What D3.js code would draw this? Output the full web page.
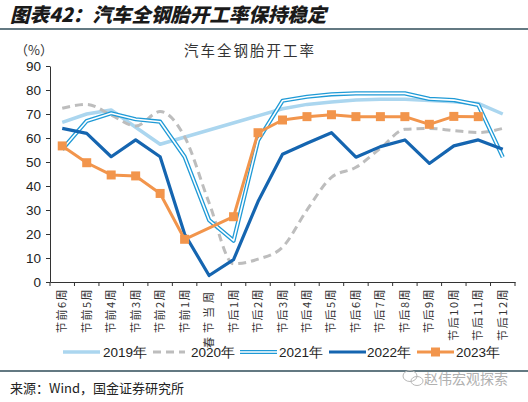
<!DOCTYPE html>
<html><head><meta charset="utf-8">
<script src="https://cdn.jsdelivr.net/npm/d3@7"></script>
<style>
body{margin:0;background:#fff;}
svg{display:block;}
</style></head>
<body>
<svg id="c" width="528" height="402"></svg>
<script>
const categories = ["节前6周","节前5周","节前4周","节前3周","节前2周","节前1周","春节当周","节后1周","节后2周","节后3周","节后4周","节后5周","节后6周","节后7周","节后8周","节后9周","节后10周","节后11周","节后12周"];
const y2019 = [66.5,70.0,71.7,64.5,57.4,null,null,null,null,72.2,74.0,75.0,75.8,76.1,76.1,75.6,75.1,74.4,70.0];
const y2020 = [72.4,74.0,69.6,65.0,71.0,60.5,33.0,7.6,9.5,14.5,30.0,43.6,47.8,55.7,63.6,64.0,63.1,62.3,64.0];
const y2021 = [55.3,67.1,70.3,67.8,66.8,52.2,25.8,17.2,59.0,75.5,77.2,78.2,78.6,78.6,78.6,76.3,75.8,73.8,52.0];
const y2022 = [64.0,61.9,52.2,59.2,52.2,20.0,2.7,9.3,33.5,53.2,57.8,62.2,52.0,56.4,59.2,49.4,56.7,59.2,55.3];
const y2023 = [56.7,49.7,44.6,44.2,36.9,17.8,null,27.2,62.2,67.5,68.9,69.7,68.9,68.9,68.9,65.7,69.0,68.9,null];
const yTicks = [0,10,20,30,40,50,60,70,80,90];
const seriesNames = ["2019年","2020年","2021年","2022年","2023年"];

const svg = d3.select("#c");
const cjk = "'Noto Sans CJK SC', sans-serif";
const latin = "'Liberation Sans', Arial, sans-serif";

// header
svg.append("text").attr("x",10).attr("y",22)
  .style("font-family",cjk).style("font-size","19.5px").style("font-weight","900")
  .style("font-style","italic").attr("fill","#1a1a1a")
  .text("图表42：汽车全钢胎开工率保持稳定");
svg.append("line").attr("x1",0).attr("x2",528).attr("y1",29).attr("y2",29)
  .attr("stroke","#2f4d58").attr("stroke-width",1.5);
svg.append("line").attr("x1",0).attr("x2",528).attr("y1",371).attr("y2",371)
  .attr("stroke","#2f4d58").attr("stroke-width",1.5);
svg.append("text").attr("x",10).attr("y",393)
  .style("font-family",cjk).style("font-size","13px").attr("fill","#222")
  .text("来源：Wind，国金证券研究所");
// watermark
const wm = svg.append("g").attr("fill","none").attr("stroke","#b8b8b8").attr("stroke-width",1);
wm.append("ellipse").attr("cx",410).attr("cy",376).attr("rx",7).attr("ry",5.5);
wm.append("ellipse").attr("cx",417).attr("cy",381).attr("rx",6).attr("ry",4.5);
svg.append("text").attr("x",424).attr("y",384)
  .style("font-family",cjk).style("font-size","14px").attr("fill","#b0b0b0")
  .text("赵伟宏观探索");

// chart title & unit
svg.append("text").attr("x",250).attr("y",56).attr("text-anchor","middle")
  .style("font-family",cjk).style("font-size","14.5px").style("letter-spacing","2px").attr("fill","#333")
  .text("汽车全钢胎开工率");
svg.append("text").attr("x",15).attr("y",55)
  .style("font-family",cjk).style("font-size","13px").attr("fill","#333")
  .text("（%）");

const x = d3.scaleBand().domain(categories).range([50,515]).padding(0);
const y = d3.scaleLinear().domain([0,90]).range([282,66]);
const cx = c => x(c) + x.bandwidth()/2;

// y axis
const ya = svg.append("g").attr("transform","translate(50,0)")
  .call(d3.axisLeft(y).tickValues(yTicks).tickSize(4).tickPadding(5).tickSizeOuter(0));
ya.selectAll("text").style("font-family",latin).style("font-size","13.5px").attr("fill","#222");
ya.selectAll("line,path").attr("stroke","#333");

// x axis
const xa = svg.append("g").attr("transform","translate(0,282)")
  .call(d3.axisBottom(x).tickSize(0).tickSizeOuter(0).tickFormat(""));
xa.select("path").attr("stroke","#333");
xa.selectAll(".bt").data(categories).enter().append("line")
  .attr("x1",d=>x(d)).attr("x2",d=>x(d)).attr("y1",0).attr("y2",4).attr("stroke","#333");
xa.append("line").attr("x1",x.range()[1]).attr("x2",x.range()[1]).attr("y1",0).attr("y2",4).attr("stroke","#333");
xa.selectAll(".lab").data(categories).enter().append("text")
  .attr("transform",d=>`translate(${cx(d)+4},6) rotate(-90)`)
  .attr("text-anchor","end")
  .style("font-family",cjk).style("font-size","11px")
  .style("letter-spacing", d => d==="春节当周" ? "4px" : "1.5px")
  .attr("fill","#333")
  .text(d=>d);

const pts = arr => categories.map((c,i)=>({c, v:arr[i]})).filter(d=>d.v!==null);
const line = d3.line().x(d=>cx(d.c)).y(d=>y(d.v));
const smooth = d3.line().x(d=>cx(d.c)).y(d=>y(d.v)).curve(d3.curveMonotoneX);

const plot = svg.append("g").attr("fill","none").attr("stroke-linejoin","round");
// 2019
plot.append("path").attr("d",line(pts(y2019))).attr("stroke","#abd6ef").attr("stroke-width",3.5);
// 2020
plot.append("path").attr("d",smooth(pts(y2020))).attr("stroke","#bdbdbd").attr("stroke-width",3)
  .attr("stroke-dasharray","8,5");
// 2021 double line
plot.append("path").attr("d",line(pts(y2021))).attr("stroke","#1f9ad6").attr("stroke-width",4.2);
plot.append("path").attr("d",line(pts(y2021))).attr("stroke","#ffffff").attr("stroke-width",1.6);
// 2022
plot.append("path").attr("d",line(pts(y2022))).attr("stroke","#1565b0").attr("stroke-width",3.2);
// 2023
plot.append("path").attr("d",line(pts(y2023))).attr("stroke","#f2954c").attr("stroke-width",3);
svg.append("g").selectAll("rect").data(pts(y2023)).enter().append("rect")
  .attr("x",d=>cx(d.c)-4.5).attr("y",d=>y(d.v)-4.5).attr("width",9).attr("height",9)
  .attr("fill","#f2954c");

// legend
const lg = svg.append("g").attr("transform","translate(0,352)");
const items = [
  {name:seriesNames[0], x1:63, x2:100, tx:103},
  {name:seriesNames[1], x1:153, x2:185, tx:191},
  {name:seriesNames[2], x1:240, x2:277, tx:279},
  {name:seriesNames[3], x1:329, x2:366, tx:367},
  {name:seriesNames[4], x1:417, x2:454, tx:456}
];
lg.append("line").attr("x1",items[0].x1).attr("x2",items[0].x2).attr("stroke","#abd6ef").attr("stroke-width",3.5);
lg.append("line").attr("x1",items[1].x1).attr("x2",items[1].x2).attr("stroke","#bdbdbd").attr("stroke-width",3).attr("stroke-dasharray","8,5");
lg.append("line").attr("x1",items[2].x1).attr("x2",items[2].x2).attr("stroke","#1f9ad6").attr("stroke-width",4.2);
lg.append("line").attr("x1",items[2].x1).attr("x2",items[2].x2).attr("stroke","#fff").attr("stroke-width",1.6);
lg.append("line").attr("x1",items[3].x1).attr("x2",items[3].x2).attr("stroke","#1565b0").attr("stroke-width",3.2);
lg.append("line").attr("x1",items[4].x1).attr("x2",items[4].x2).attr("stroke","#f2954c").attr("stroke-width",3);
lg.append("rect").attr("x",(items[4].x1+items[4].x2)/2-4.5).attr("y",-4.5).attr("width",9).attr("height",9).attr("fill","#f2954c");
lg.selectAll("text").data(items).enter().append("text")
  .attr("x",d=>d.tx).attr("y",5)
  .style("font-family",latin).style("font-size","13.5px").attr("fill","#222")
  .text(d=>d.name);
</script>
</body></html>
